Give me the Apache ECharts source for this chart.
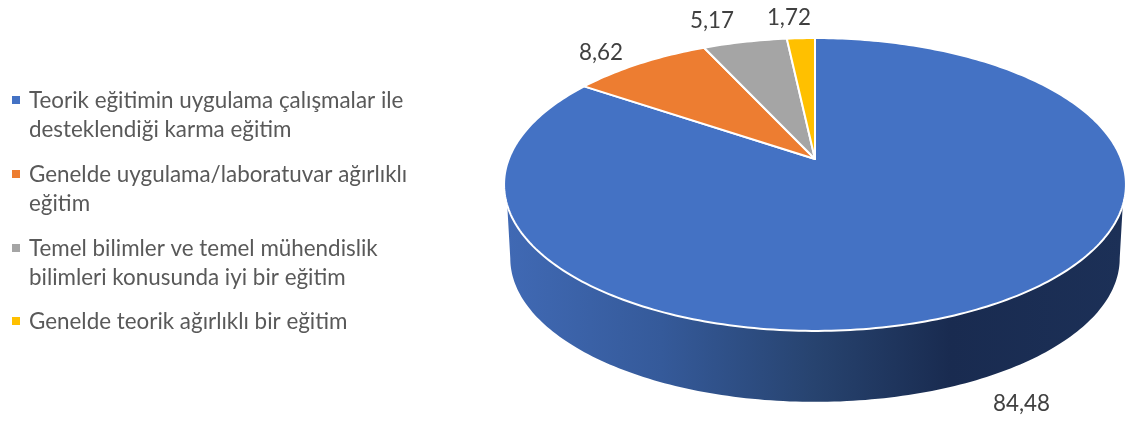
<!DOCTYPE html>
<html>
<head>
<meta charset="utf-8">
<title>Pie</title>
<style>
  html, body { margin: 0; padding: 0; background: #fff; }
  #chart { width: 1125px; height: 423px; }
</style>
<script src="https://cdn.jsdelivr.net/npm/echarts@6/dist/echarts.min.js"></script>
</head>
<body>
<div id="chart"></div>
<script>
// data
const categories = [
  'Teorik eğitimin uygulama çalışmalar ile\ndesteklendiği karma eğitim',
  'Genelde uygulama/laboratuvar ağırlıklı\neğitim',
  'Temel bilimler ve temel mühendislik\nbilimleri konusunda iyi bir eğitim',
  'Genelde teorik ağırlıklı bir eğitim'
];
const values = [84.48, 8.62, 5.17, 1.72];
const labels = ['84,48', '8,62', '5,17', '1,72'];
const colors = ['#4472C4', '#ED7D31', '#A5A5A5', '#FFC000'];

// layout of the tilted pie (perspective projection of a circle)
const CX = 815, CY = 159;
const RX = 306.2, RY = 142, PERSP = 0.174;
const LOWER_SCALE = 0.98, LOWER_CY = 233.4;
const WALL_TOP = [108, 252], WALL_BOTTOM = [100, 260];
const labelOffsets = [[37, 97], [-39, -11], [-33, -21], [-12, -20]];
const legendTop = [100, 174, 248, 321];
const FONT = 'Lato';
const FONT_SIZE = 22.4;

const total = values.reduce((a, b) => a + b, 0);

function project(deg, scale, cy) {
  const t = deg * Math.PI / 180;
  const u = Math.sin(t), v = Math.cos(t);
  const d = 1 + PERSP * v;
  return [CX + scale * RX * u / d, cy - scale * RY * v / d];
}

function arc(from, to, scale, cy) {
  const pts = [];
  const n = Math.max(2, Math.ceil(Math.abs(to - from)));
  for (let i = 0; i <= n; i++) {
    pts.push(project(from + (to - from) * i / n, scale, cy));
  }
  return pts;
}

const wallFill = new echarts.graphic.LinearGradient(0, 0, 1, 0, [
  { offset: 0, color: '#4069B4' },
  { offset: 0.25, color: '#355A9A' },
  { offset: 0.5, color: '#27436F' },
  { offset: 0.72, color: '#192B50' },
  { offset: 1, color: '#1C3057' }
]);

function renderSlice(params, api) {
  const i = params.dataIndex;
  const value = api.value(0);
  let before = 0;
  for (let k = 0; k < i; k++) before += values[k];
  const start = before / total * 360;
  const end = (before + value) / total * 360;
  const children = [];

  // the side wall only shows for the slice facing the viewer
  if (start < WALL_TOP[0] && end > WALL_TOP[1]) {
    const pts = arc(WALL_TOP[0], WALL_TOP[1], 1, CY)
      .concat(arc(WALL_BOTTOM[1], WALL_BOTTOM[0], LOWER_SCALE, LOWER_CY));
    children.push({
      type: 'polygon',
      shape: { points: pts },
      style: { fill: wallFill }
    });
  }

  children.push({
    type: 'polygon',
    shape: { points: [[CX, CY]].concat(arc(start, end, 1, CY)) },
    style: { fill: colors[i], stroke: '#fff', lineWidth: 2, lineJoin: 'round' }
  });

  const rim = project((start + end) / 2, 1, CY);
  children.push({
    type: 'text',
    z2: 10,
    style: {
      x: rim[0] + labelOffsets[i][0],
      y: rim[1] + labelOffsets[i][1],
      text: labels[i],
      fontFamily: FONT,
      fontSize: FONT_SIZE,
      fill: '#404040',
      align: 'center',
      verticalAlign: 'middle'
    }
  });
  return { type: 'group', children: children };
}

const legendItems = [];
categories.forEach((name, i) => {
  legendItems.push({
    type: 'rect',
    shape: { x: 12, y: legendTop[i] - 4, width: 8, height: 8 },
    style: { fill: colors[i] }
  });
  legendItems.push({
    type: 'text',
    style: {
      x: 29,
      y: legendTop[i] - 13.5,
      text: name,
      fontFamily: FONT,
      fontSize: FONT_SIZE,
      lineHeight: 29,
      fill: '#595959'
    }
  });
});

const chart = echarts.init(document.getElementById('chart'), null, { renderer: 'canvas' });
chart.setOption({
  animation: false,
  backgroundColor: '#fff',
  graphic: { elements: legendItems },
  series: [{
    type: 'custom',
    coordinateSystem: 'none',
    renderItem: renderSlice,
    data: values.map(v => [v])
  }]
});
window.addEventListener('resize', () => chart.resize());
</script>
</body>
</html>
